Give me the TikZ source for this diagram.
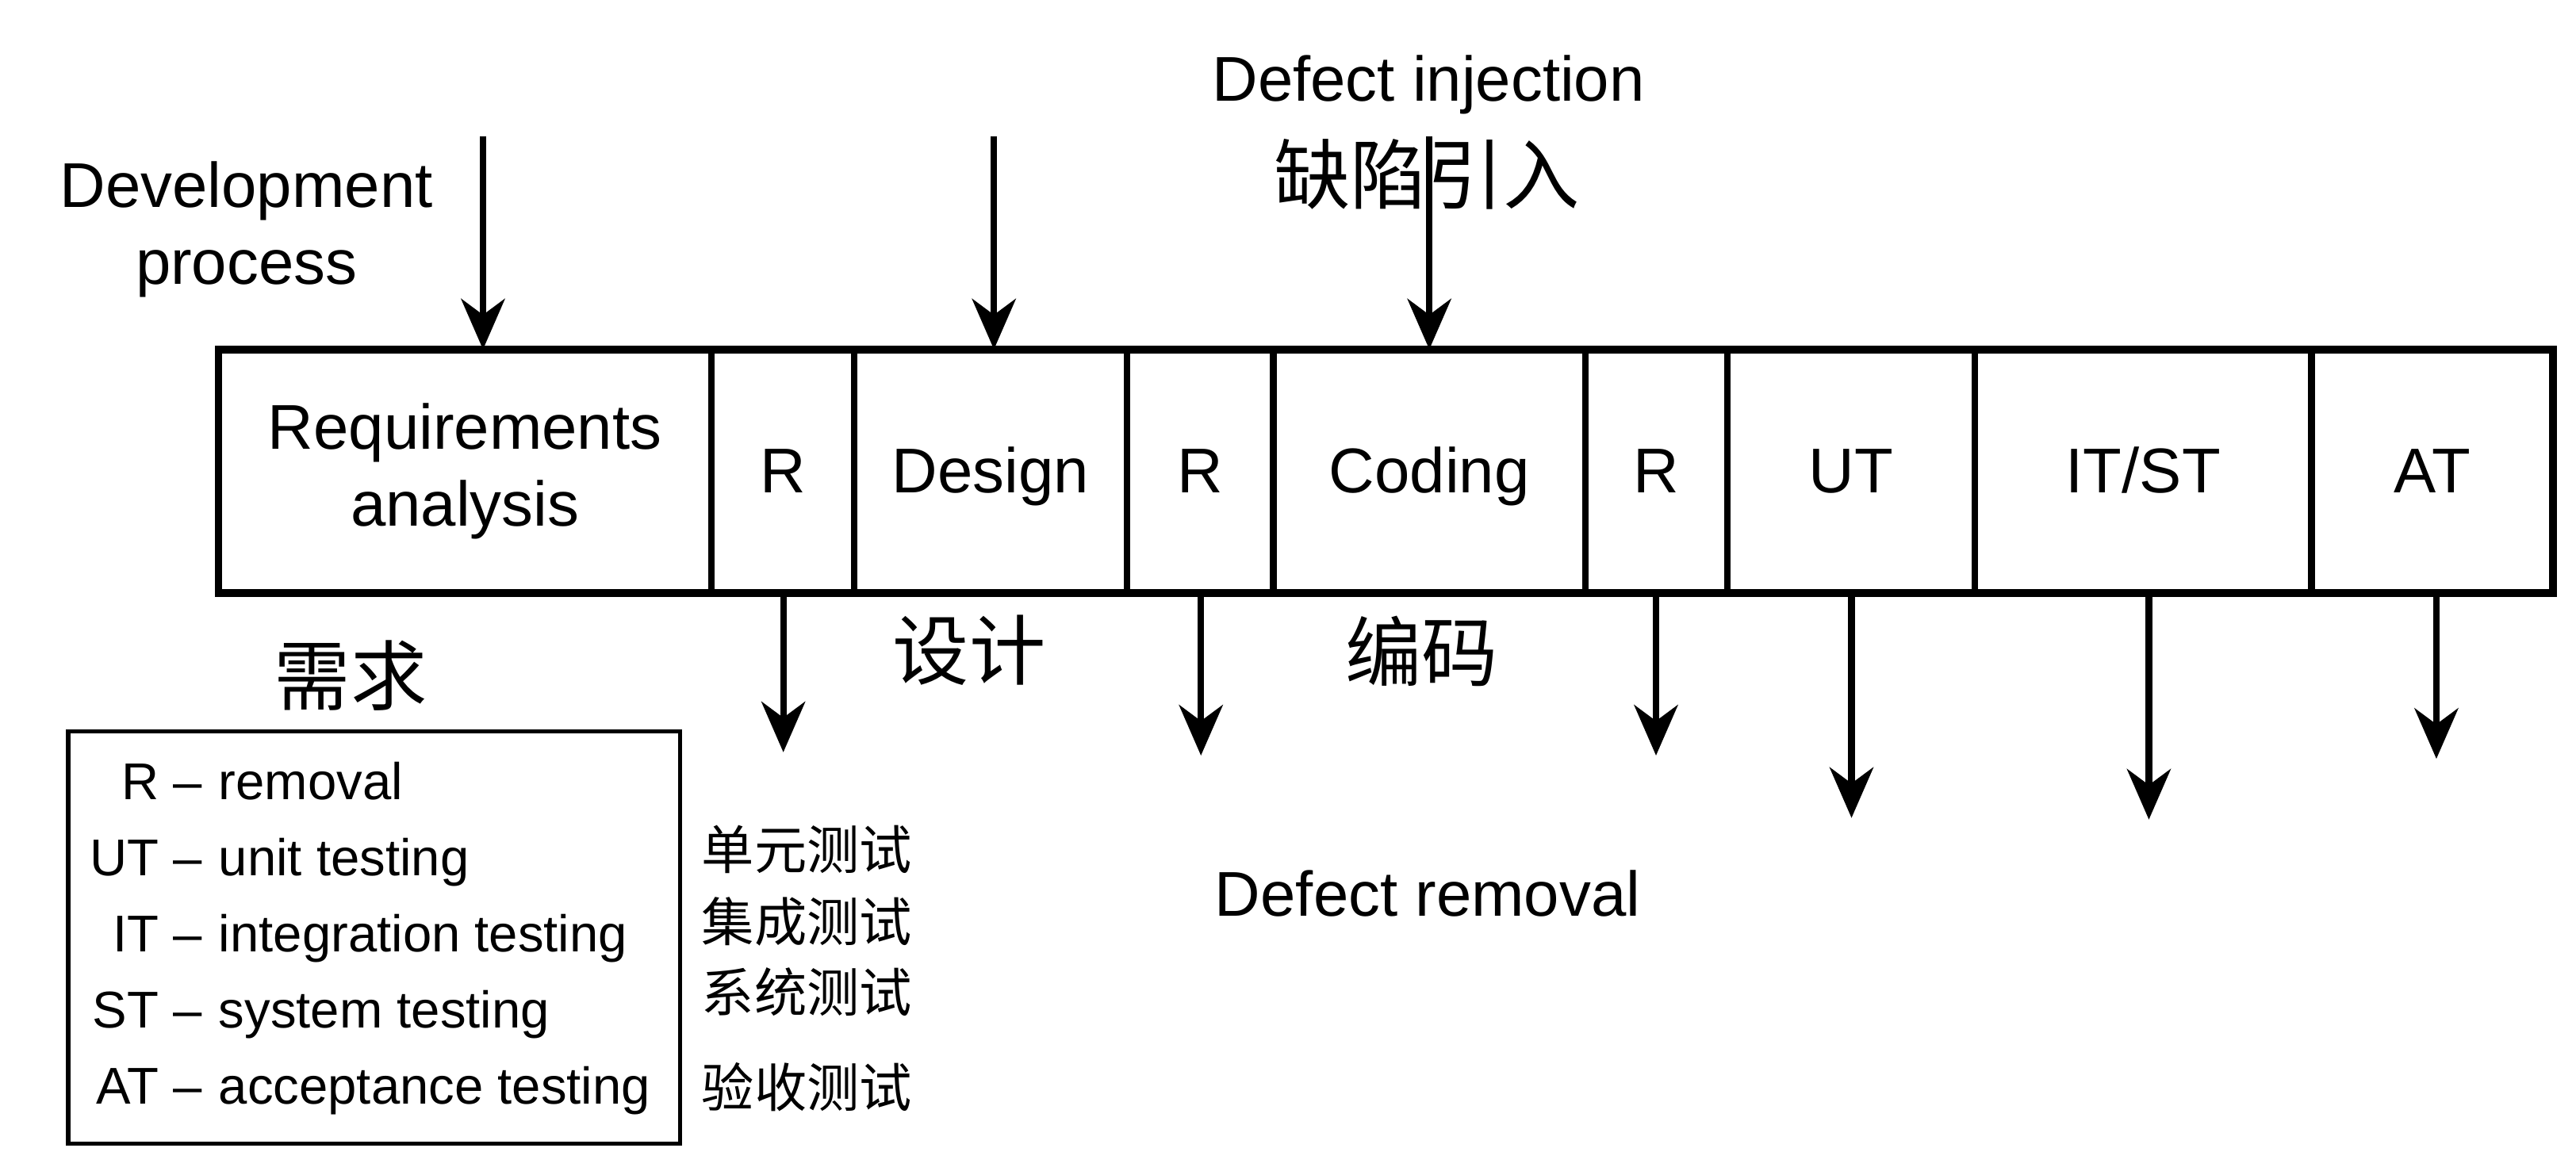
\documentclass[tikz,border=0pt]{standalone}
\usepackage{fontspec}
\setmainfont{Liberation Sans}
\newfontfamily\cjk{Noto Sans CJK SC}
\usetikzlibrary{arrows.meta}
\tikzset{
  cell/.style={draw, line width=4pt, inner sep=0pt, outer sep=0pt, minimum height=148.2pt,
    text height=28pt, text depth=2pt, font=\fontsize{38.5}{47}\selectfont},
  twoline/.style={draw, line width=4pt, inner sep=0pt, outer sep=0pt, minimum height=148.2pt,
    align=center, font=\fontsize{38.5}{47}\selectfont},
  arr/.style={line width=4pt, -{Stealth[length=31pt,width=27pt,inset=10pt,line width=1pt]}},
  bigtxt/.style={inner sep=0pt, font=\fontsize{38.5}{46.5}\selectfont},
  bigcjk/.style={inner sep=0pt, font=\cjk\fontsize{46.5}{50}\selectfont},
  smallcjk/.style={inner sep=0pt, anchor=west, font=\cjk\fontsize{32}{36}\selectfont},
  legbox/.style={draw, line width=2.5pt, inner sep=0pt, outer sep=0pt},
}
\begin{document}
\begin{tikzpicture}[x=1pt,y=-1pt]
\fill[white] (0,0) rectangle (1568,712.57);
\useasboundingbox (0,0) rectangle (1568,712.57);

% ---- process strip
\node[twoline, minimum width=300pt]   (req)  at (283,286.8)     {Requirements\\analysis};
\node[cell,    minimum width=87pt]    (r1)   at (476.5,286.8)   {R};
\node[cell,    minimum width=166pt]   (des)  at (603,286.8)     {Design};
\node[cell,    minimum width=89pt]    (r2)   at (730.5,286.8)   {R};
\node[cell,    minimum width=190pt]   (cod)  at (870,286.8)     {Coding};
\node[cell,    minimum width=86.5pt]  (r3)   at (1008.25,286.8) {R};
\node[cell,    minimum width=150.5pt] (ut)   at (1126.75,286.8) {UT};
\node[cell,    minimum width=205pt]   (itst) at (1304.5,286.8)  {IT/ST};
\node[cell,    minimum width=147pt]   (at)   at (1480.5,286.8)  {AT};
\draw[line width=4.8pt] (req.north west) rectangle (at.south east);

% ---- titles
\node[bigtxt, align=center] (dev) at (150,139.75) {Development\\process};
\node[bigtxt, anchor=base] (inj) at (869.5,61.4) {Defect injection};
\node[bigcjk] (injcn) at (868.6,106) {缺陷引入};
\node[bigtxt, anchor=base] (rem) at (869,558) {Defect removal};

\node[bigcjk] (reqcn) at (213.5,411.5) {需求};
\node[bigcjk] (descn) at (590,396) {设计};
\node[bigcjk] (codcn) at (865.5,396.5) {编码};

% ---- injection arrows
\coordinate (s1) at (294,83);
\coordinate (s2) at (605,83);
\coordinate (s3) at (870,83);
\draw[arr] (s1) -- (s1 |- req.north);
\draw[arr] (s2) -- (s2 |- des.north);
\draw[arr] (s3) -- (s3 |- cod.north);

% ---- removal arrows
\coordinate (e1) at (476.8,458);
\coordinate (e2) at (731,460);
\coordinate (e3) at (1008,460);
\coordinate (e4) at (1127,498);
\coordinate (e5) at (1308,499);
\coordinate (e6) at (1483,462);
\draw[arr] (e1 |- r1.south) -- (e1);
\draw[arr] (e2 |- r2.south) -- (e2);
\draw[arr] (e3 |- r3.south) -- (e3);
\draw[arr] (e4 |- ut.south) -- (e4);
\draw[arr] (e5 |- itst.south) -- (e5);
\draw[arr] (e6 |- at.south) -- (e6);

% ---- legend
\node[legbox, minimum width=372.5pt, minimum height=251pt] (legend) at (227.75,571) {};
\node[inner sep=0pt, anchor=base west] (legtext) at (54.5,486.8)
  {\fontsize{31.5}{46.3}\selectfont
   \begin{tabular}[t]{@{}r@{\hspace{9pt}}c@{\hspace{10pt}}l@{}}
   R  & -- & removal\\
   UT & -- & unit testing\\
   IT & -- & integration testing\\
   ST & -- & system testing\\
   AT & -- & acceptance testing
   \end{tabular}};
\node[smallcjk] (utcn) at (427,517.4) {单元测试};
\node[smallcjk] (itcn) at (427,561) {集成测试};
\node[smallcjk] (stcn) at (427,604) {系统测试};
\node[smallcjk] (atcn) at (427,661.8) {验收测试};
\end{tikzpicture}
\end{document}
